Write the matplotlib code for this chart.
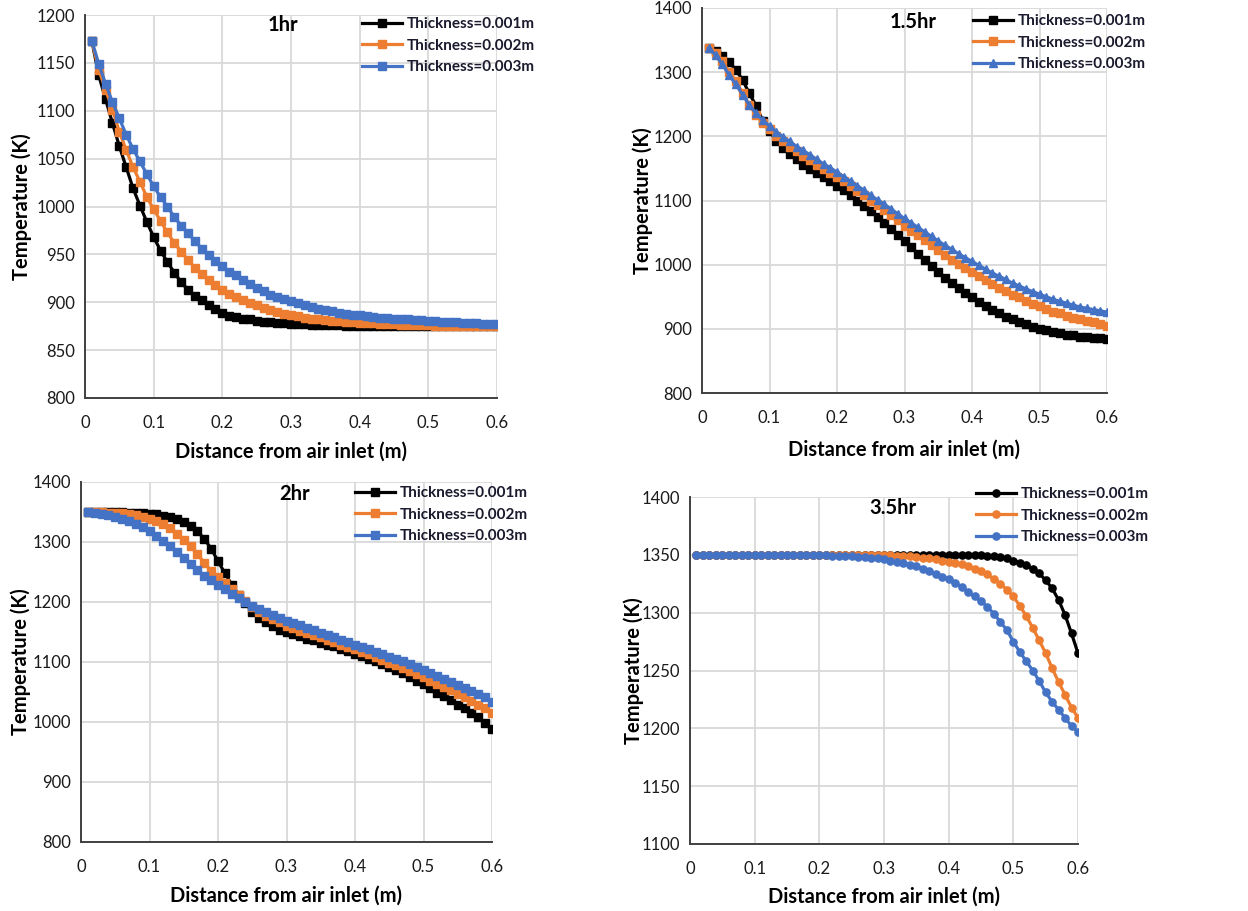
import matplotlib
matplotlib.use("Agg")
import matplotlib.pyplot as plt

plt.rcParams['font.family'] = ['Lato', 'DejaVu Sans']

W, H = 1248, 911

# distance from air inlet (m)
distance = [0.01, 0.02, 0.03, 0.04, 0.05, 0.06, 0.07, 0.08, 0.09, 0.10,
            0.11, 0.12, 0.13, 0.14, 0.15, 0.16, 0.17, 0.18, 0.19, 0.20,
            0.21, 0.22, 0.23, 0.24, 0.25, 0.26, 0.27, 0.28, 0.29, 0.30,
            0.31, 0.32, 0.33, 0.34, 0.35, 0.36, 0.37, 0.38, 0.39, 0.40,
            0.41, 0.42, 0.43, 0.44, 0.45, 0.46, 0.47, 0.48, 0.49, 0.50,
            0.51, 0.52, 0.53, 0.54, 0.55, 0.56, 0.57, 0.58, 0.59, 0.60]

labels = ['Thickness=0.001m', 'Thickness=0.002m', 'Thickness=0.003m']
colors = ['#000000', '#ED7D31', '#4472C4']

# 1 hr
t1_001 = [1173, 1137, 1112, 1087, 1063, 1041, 1019, 1001, 984, 968,
          954, 942, 931, 921, 913, 907, 902, 897, 893, 889,
          886, 885, 883, 882, 880, 879, 879, 878, 878, 877,
          877, 877, 876, 876, 876, 876, 876, 875, 875, 875,
          875, 875, 875, 875, 875, 875, 875, 875, 875, 875,
          875, 875, 875, 875, 875, 875, 875, 875, 875, 875]
t1_002 = [1173, 1143, 1122, 1101, 1078, 1059, 1041, 1026, 1010, 997,
          985, 973, 962, 953, 944, 936, 929, 923, 918, 913,
          909, 905, 902, 899, 897, 894, 892, 890, 888, 887,
          886, 884, 883, 882, 881, 880, 880, 879, 879, 878,
          878, 878, 877, 877, 877, 876, 876, 876, 876, 876,
          875, 875, 875, 875, 875, 875, 875, 875, 875, 875]
t1_003 = [1173, 1149, 1128, 1109, 1092, 1075, 1060, 1047, 1034, 1021,
          1010, 1000, 989, 980, 972, 964, 956, 949, 943, 938,
          932, 928, 923, 919, 915, 912, 908, 906, 903, 901,
          899, 897, 895, 893, 892, 891, 889, 888, 887, 887,
          886, 885, 884, 884, 883, 882, 882, 881, 881, 880,
          880, 879, 879, 879, 878, 878, 878, 877, 877, 877]

# 1.5 hr
t15_001 = [1338, 1333, 1325, 1316, 1304, 1288, 1267, 1248, 1224, 1208,
           1193, 1182, 1173, 1164, 1156, 1149, 1143, 1136, 1130, 1122,
           1116, 1108, 1100, 1092, 1083, 1074, 1065, 1056, 1047, 1037,
           1027, 1017, 1007, 998, 989, 980, 971, 963, 956, 949,
           942, 936, 929, 924, 919, 915, 911, 907, 903, 900,
           898, 895, 894, 891, 890, 888, 887, 886, 885, 884]
t15_002 = [1338, 1330, 1317, 1301, 1286, 1268, 1249, 1234, 1221, 1211,
           1201, 1193, 1184, 1177, 1170, 1163, 1156, 1149, 1143, 1136,
           1130, 1122, 1115, 1108, 1100, 1093, 1085, 1077, 1069, 1061,
           1053, 1046, 1038, 1030, 1023, 1015, 1008, 1001, 995, 988,
           982, 976, 970, 964, 959, 953, 949, 944, 939, 935,
           931, 927, 924, 920, 917, 915, 912, 910, 908, 905]
t15_003 = [1338, 1327, 1312, 1296, 1281, 1265, 1249, 1236, 1225, 1216,
           1207, 1199, 1192, 1184, 1178, 1171, 1164, 1157, 1151, 1144,
           1137, 1130, 1123, 1116, 1108, 1101, 1094, 1087, 1079, 1072,
           1065, 1058, 1051, 1044, 1037, 1030, 1024, 1017, 1011, 1005,
           999, 993, 987, 982, 977, 971, 967, 962, 958, 954,
           950, 946, 943, 940, 937, 934, 932, 930, 928, 926]

# 2 hr
t2_001 = [1350, 1350, 1350, 1350, 1350, 1350, 1349, 1349, 1348, 1347,
          1346, 1344, 1341, 1338, 1333, 1327, 1318, 1305, 1289, 1268,
          1248, 1229, 1212, 1198, 1184, 1174, 1166, 1160, 1154, 1150,
          1146, 1143, 1139, 1136, 1132, 1129, 1126, 1122, 1118, 1114,
          1110, 1105, 1101, 1096, 1091, 1086, 1081, 1075, 1069, 1063,
          1056, 1049, 1043, 1036, 1029, 1023, 1015, 1008, 999, 989]
t2_002 = [1350, 1350, 1350, 1349, 1349, 1348, 1347, 1345, 1342, 1339,
          1335, 1330, 1323, 1314, 1304, 1293, 1280, 1265, 1252, 1241,
          1232, 1222, 1212, 1202, 1192, 1184, 1177, 1171, 1166, 1160,
          1156, 1152, 1149, 1145, 1141, 1137, 1133, 1129, 1125, 1121,
          1117, 1113, 1108, 1104, 1099, 1095, 1090, 1085, 1080, 1075,
          1069, 1064, 1058, 1053, 1047, 1041, 1035, 1029, 1023, 1015]
t2_003 = [1350, 1349, 1347, 1345, 1342, 1339, 1335, 1330, 1325, 1318,
          1310, 1302, 1293, 1283, 1273, 1263, 1253, 1244, 1236, 1228,
          1221, 1214, 1207, 1200, 1194, 1188, 1183, 1178, 1173, 1169,
          1165, 1161, 1157, 1153, 1149, 1145, 1141, 1137, 1133, 1129,
          1125, 1121, 1117, 1113, 1109, 1105, 1101, 1096, 1092, 1087,
          1082, 1077, 1072, 1067, 1062, 1057, 1052, 1047, 1041, 1034]

# 3.5 hr
t35_001 = [1350, 1350, 1350, 1350, 1350, 1350, 1350, 1350, 1350, 1350,
           1350, 1350, 1350, 1350, 1350, 1350, 1350, 1350, 1350, 1350,
           1350, 1350, 1350, 1350, 1350, 1350, 1350, 1350, 1350, 1350,
           1350, 1350, 1350, 1350, 1350, 1350, 1350, 1350, 1350, 1350,
           1350, 1350, 1350, 1350, 1350, 1349, 1349, 1348, 1347, 1345,
           1343, 1341, 1338, 1334, 1328, 1321, 1311, 1298, 1282, 1265]
t35_002 = [1350, 1350, 1350, 1350, 1350, 1350, 1350, 1350, 1350, 1350,
           1350, 1350, 1350, 1350, 1350, 1350, 1350, 1350, 1350, 1350,
           1350, 1350, 1350, 1350, 1350, 1350, 1350, 1350, 1350, 1350,
           1350, 1349, 1349, 1349, 1348, 1347, 1347, 1346, 1345, 1344,
           1343, 1342, 1340, 1338, 1336, 1333, 1329, 1325, 1320, 1314,
           1306, 1297, 1287, 1276, 1265, 1252, 1240, 1229, 1218, 1209]
t35_003 = [1350, 1350, 1350, 1350, 1350, 1350, 1350, 1350, 1350, 1350,
           1350, 1350, 1350, 1350, 1350, 1350, 1350, 1350, 1350, 1350,
           1350, 1349, 1349, 1349, 1349, 1348, 1348, 1347, 1347, 1346,
           1345, 1344, 1343, 1341, 1340, 1338, 1336, 1333, 1331, 1329,
           1326, 1322, 1318, 1314, 1310, 1305, 1299, 1292, 1285, 1275,
           1266, 1258, 1250, 1241, 1231, 1223, 1216, 1209, 1202, 1197]

panels = [
    # title, series, markers, ylim, yticks, axes box (l, r, t, b px), title px, legend px, ylabel x px, xlabel y px
    ('1hr', [t1_001, t1_002, t1_003], ['s', 's', 's'], (800, 1200), range(800, 1201, 50),
     (85, 497, 15, 398), (283, 25), (362, 17), 22, 452),
    ('1.5hr', [t15_001, t15_002, t15_003], ['s', 's', '^'], (800, 1400), range(800, 1401, 100),
     (702, 1107, 8, 393), (913, 22), (973, 14), 643, 450),
    ('2hr', [t2_001, t2_002, t2_003], ['s', 's', 's'], (800, 1400), range(800, 1401, 100),
     (81, 492, 482, 842), (295, 494), (355, 486), 21, 896),
    ('3.5hr', [t35_001, t35_002, t35_003], ['o', 'o', 'o'], (1100, 1400), range(1100, 1401, 50),
     (690, 1078, 497, 844), (893, 508), (976, 487), 634, 897),
]

fig = plt.figure(figsize=(W / 100, H / 100), dpi=100)

for title, series, markers, ylim, yticks, box, tpos, lpos, ylx, xly in panels:
    l, r, t, b = box
    ax = fig.add_axes([l / W, 1 - b / H, (r - l) / W, (b - t) / H])
    for vals, lab, col, mk in zip(series, labels, colors, markers):
        ax.plot(distance, vals, color=col, lw=2.3, marker=mk, ms=5.2,
                mec=col, mfc=col, label=lab, zorder=3)
    ax.set_xlim(0, 0.6)
    ax.set_ylim(*ylim)
    ax.set_xticks([0, 0.1, 0.2, 0.3, 0.4, 0.5, 0.6])
    ax.set_xticklabels(['0', '0.1', '0.2', '0.3', '0.4', '0.5', '0.6'])
    ax.set_yticks(list(yticks))
    ax.grid(True, color='#d9d9d9', lw=1.3, zorder=0)
    ax.set_axisbelow(True)
    for s in ['top', 'right']:
        ax.spines[s].set_visible(False)
    for s in ['left', 'bottom']:
        ax.spines[s].set_color('#404040')
        ax.spines[s].set_linewidth(1.4)
    ax.tick_params(length=0, labelsize=12, labelcolor='#1a1a1a')
    ax.tick_params(axis='x', pad=12)
    ax.tick_params(axis='y', pad=7)

    fig.text(tpos[0] / W, 1 - tpos[1] / H, title, ha='center', va='center',
             fontsize=14.5, fontweight='bold')
    fig.text(ylx / W, 1 - (t + b) / 2 / H, 'Temperature (K)', rotation=90,
             ha='center', va='center', fontsize=14.5, fontweight='bold')
    fig.text((l + r) / 2 / W, 1 - xly / H, 'Distance from air inlet (m)',
             ha='center', va='center', fontsize=14.5, fontweight='bold')

    leg = ax.legend(loc='upper left', bbox_to_anchor=(lpos[0] / W, 1 - lpos[1] / H),
                    bbox_transform=fig.transFigure, frameon=False, borderpad=0,
                    borderaxespad=0, handlelength=2.6, handletextpad=0.35,
                    labelspacing=0.5, prop={'size': 11, 'weight': 'bold'})
    for txt in leg.get_texts():
        txt.set_color('#1a1a2e')

fig.savefig('out.png', dpi=100, facecolor='white')
